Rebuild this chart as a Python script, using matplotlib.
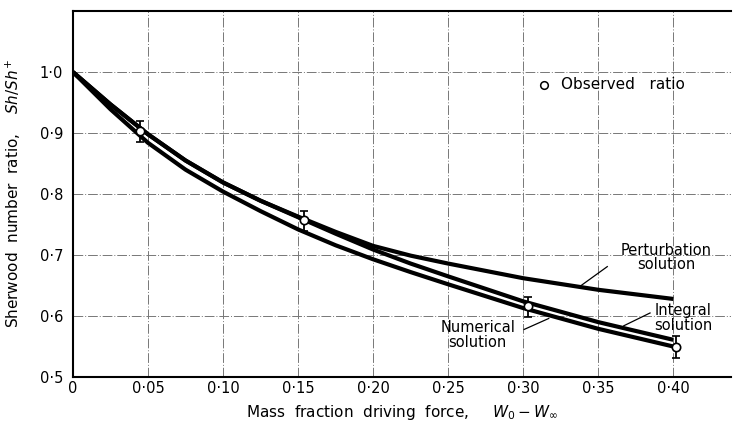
import numpy as np
import matplotlib
matplotlib.use('Agg')
from matplotlib import pyplot as plt

# curve values
x_curve = [0, 0.025, 0.05, 0.075, 0.10, 0.125, 0.15, 0.175, 0.20, 0.225, 0.25, 0.30, 0.35, 0.40]
numerical = [1.0, 0.939, 0.884, 0.840, 0.804, 0.772, 0.742, 0.716, 0.693, 0.672, 0.652, 0.613, 0.579, 0.550]
integral = [1.0, 0.947, 0.898, 0.855, 0.819, 0.789, 0.762, 0.735, 0.709, 0.686, 0.665, 0.624, 0.590, 0.561]
perturbation = [1.0, 0.947, 0.898, 0.855, 0.819, 0.789, 0.763, 0.738, 0.715, 0.699, 0.686, 0.662, 0.643, 0.628]

# observed ratio with error bars
x_obs = [0.0445, 0.1538, 0.303, 0.4016]
y_obs = [0.904, 0.758, 0.617, 0.5485]
err_lo = [0.018, 0.019, 0.018, 0.0175]
err_hi = [0.015, 0.015, 0.015, 0.0185]

x_ticks = [0, 0.05, 0.10, 0.15, 0.20, 0.25, 0.30, 0.35, 0.40]
x_labels = ['0', '0·05', '0·10', '0·15', '0·20', '0·25', '0·30', '0·35', '0·40']
y_ticks = [0.5, 0.6, 0.7, 0.8, 0.9, 1.0]
y_labels = ['0·5', '0·6', '0·7', '0·8', '0·9', '1·0']

plt.rcParams['font.family'] = ['DejaVu Sans']
fig = plt.figure(figsize=(7.37, 4.26), dpi=100)
ax = fig.add_axes([0.099, 0.115, 0.893, 0.859])

ax.plot(x_curve, perturbation, color='black', lw=3, solid_capstyle='butt', zorder=3)
ax.plot(x_curve, integral, color='black', lw=3, solid_capstyle='butt', zorder=3)
ax.plot(x_curve, numerical, color='black', lw=3, solid_capstyle='butt', zorder=3)

ax.errorbar(x_obs, y_obs, yerr=[err_lo, err_hi], fmt='o', color='black',
            mfc='white', mec='black', ms=6, mew=1.2, elinewidth=1.3,
            capsize=3, capthick=1.3, zorder=5)

ax.set_xlim(0, 0.4385)
ax.set_ylim(0.5, 1.1)
ax.set_xticks(x_ticks)
ax.set_xticklabels(x_labels)
ax.set_yticks(y_ticks)
ax.set_yticklabels(y_labels)
ax.tick_params(axis='x', length=0, labelsize=10.5, pad=3)
ax.tick_params(axis='y', length=0, labelsize=10.5, pad=7)
ax.grid(True, color='#777777', lw=0.7, linestyle=(0, (10, 2, 1, 2)), zorder=1)
ax.spines['right'].set_visible(False)
for s in ['left', 'bottom', 'top']:
    ax.spines[s].set_linewidth(1.5)

ax.set_xlabel('Mass  fraction  driving  force,     $W_0 - W_\\infty$', fontsize=11, labelpad=5)
ax.set_ylabel('Sherwood  number  ratio,    $Sh/Sh^{+}$', fontsize=11, labelpad=12)

# labels with leader lines
ax.text(0.3955, 0.696, 'Perturbation\nsolution', ha='center', va='center',
        fontsize=10.5, linespacing=0.95, zorder=6)
ax.plot([0.338, 0.356], [0.649, 0.681], color='black', lw=0.9)
ax.text(0.4065, 0.597, 'Integral\nsolution', ha='center', va='center',
        fontsize=10.5, linespacing=0.95, zorder=6)
ax.plot([0.367, 0.3845], [0.584, 0.605], color='black', lw=0.9)
ax.text(0.2697, 0.569, 'Numerical\nsolution', ha='center', va='center',
        fontsize=10.5, linespacing=0.95, zorder=6)
ax.plot([0.3006, 0.317], [0.578, 0.596], color='black', lw=0.9)

ax.plot([0.314], [0.979], 'o', mfc='white', mec='black', ms=5.5, mew=1.1)
ax.text(0.325, 0.979, 'Observed   ratio', ha='left', va='center', fontsize=11)

fig.savefig('out.png', dpi=100)
